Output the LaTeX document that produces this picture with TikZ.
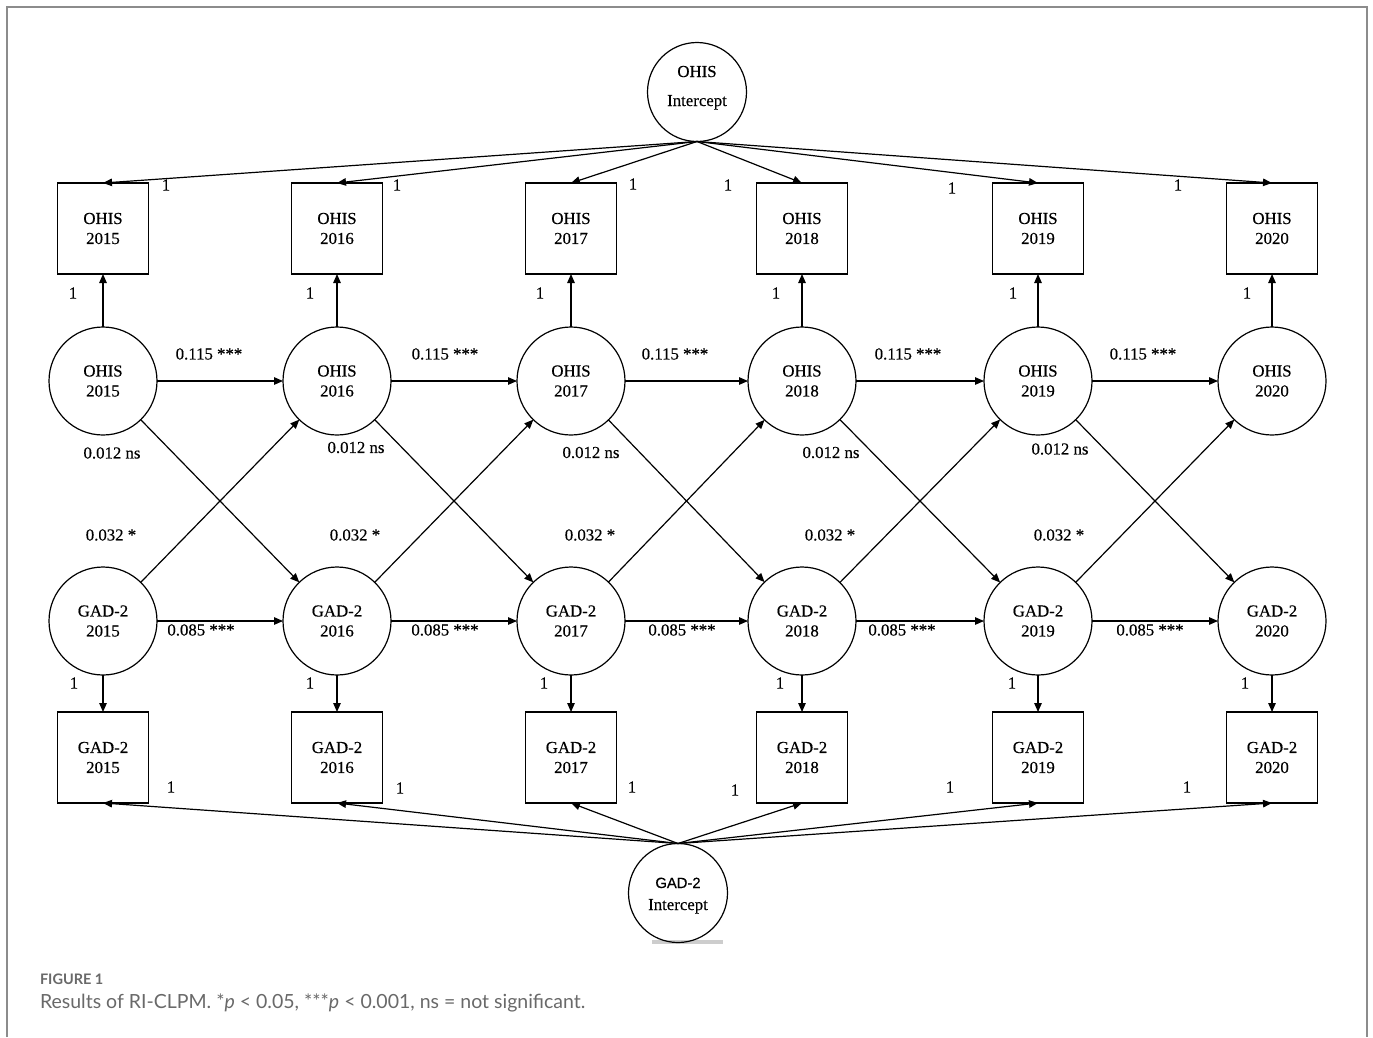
\documentclass[tikz,border=0pt]{standalone}
\usepackage{fontspec}
\setmainfont{Liberation Serif}[FakeBold=0]
\newfontfamily\dfont{Liberation Serif}[FakeBold=0.4]
\newfontfamily\capfont{Lato}
\newfontfamily\gadsans{Liberation Sans}[FakeBold=0.4]
\usetikzlibrary{arrows.meta}
\definecolor{framegray}{RGB}{140,140,140}
\definecolor{capgray}{RGB}{105,105,105}
\definecolor{bargray}{RGB}{205,205,205}
\begin{document}
\begin{tikzpicture}[x=1pt,y=-1pt,
  every node/.style={font=\dfont\fontsize{16.8}{20}\selectfont, inner sep=0pt, outer sep=0pt},
  lat/.style={draw, circle, minimum size=108pt, align=center, line width=1.2pt},
  obs/.style={draw, rectangle, minimum size=91pt, align=center, line width=1.2pt},
  icpt/.style={draw, circle, minimum size=99pt, line width=1.2pt},
  conn/.style={line width=1.2pt, -{Triangle[length=9pt,width=7.5pt]}},
  captxt/.style={anchor=base west, text=capgray}
]
\useasboundingbox (0,0) rectangle (1373,1037);
% frame
\draw[framegray, line width=2pt] (6.5,1037) -- (6.5,6.5) -- (1366.5,6.5) -- (1366.5,1037);

% intercepts
\node[icpt] (oi) at (697,92) {};
\node[anchor=base] (oit1) at (697,77) {OHIS};
\node[anchor=base] (oit2) at (697,106) {Intercept};
\fill[bargray] (652,940) rectangle (723,944);
\node[icpt] (gi) at (678,893) {};
\node[anchor=base, font=\gadsans\fontsize{14.8}{18}\selectfont] (git1) at (678,888) {GAD-2};
\node[anchor=base] (git2) at (678,910) {Intercept};

% columns
\foreach \i/\x/\yr in {1/103/2015,2/337/2016,3/571/2017,4/802/2018,5/1038/2019,6/1272/2020}{
  \node[obs] (ob\i) at (\x,228.5) {OHIS\\\yr};
  \node[lat] (o\i) at (\x,381) {OHIS\\\yr};
  \node[lat] (g\i) at (\x,621) {GAD-2\\\yr};
  \node[obs] (gb\i) at (\x,757.5) {GAD-2\\\yr};
  \draw[conn] (oi.south) -- (ob\i.north);
  \draw[conn] (o\i) -- (ob\i);
  \draw[conn] (g\i) -- (gb\i);
  \draw[conn] (gi.north) -- (gb\i.south);
}
\foreach \i/\j in {1/2,2/3,3/4,4/5,5/6}{
  \draw[conn] (o\i) -- (o\j);
  \draw[conn] (g\i) -- (g\j);
  \draw[conn] (o\i) -- (g\j);
  \draw[conn] (g\i) -- (o\j);
}

% loading labels
\foreach \n/\x/\y in {a/166/185,b/397/185,c/633/184,d/728/185,e/952/188,f/1178/185}{
  \node (lt\n) at (\x,\y) {1};
}
\foreach \n/\x in {a/73,b/310,c/540,d/776,e/1013,f/1247}{
  \node (lo\n) at (\x,293) {1};
}
\foreach \n/\x in {a/74,b/310,c/544,d/780,e/1012,f/1245}{
  \node (lg\n) at (\x,683) {1};
}
\foreach \n/\x/\y in {a/171/787,b/400/788,c/632/787,d/735/790,e/950/787,f/1187/787}{
  \node (lb\n) at (\x,\y) {1};
}

% path labels
\foreach \n/\x in {a/209,b/445,c/675,d/908,e/1143}{
  \node (ar\n) at (\x,354) {0.115 ***};
}
\foreach \n/\x/\y in {a/112/453,b/356/447.5,c/591/452.5,d/831/452.5,e/1060/449}{
  \node (cl\n) at (\x,\y) {0.012 ns};
}
\foreach \n/\x in {a/111,b/355,c/590,d/830,e/1059}{
  \node (cg\n) at (\x,535) {0.032 *};
}
\foreach \n/\x in {a/201,b/445,c/682,d/902,e/1150}{
  \node (ag\n) at (\x,630) {0.085 ***};
}

% caption
\node[captxt, font=\capfont\bfseries\fontsize{14.5}{18}\selectfont] (fig) at (40,984) {FIGURE 1};
\node[captxt, font=\capfont\fontsize{19.5}{23}\selectfont] (cap) at (40,1008) {Results of RI-CLPM. *\textit{p} < 0.05, ***\textit{p} < 0.001, ns = not significant.};
\end{tikzpicture}
\end{document}
